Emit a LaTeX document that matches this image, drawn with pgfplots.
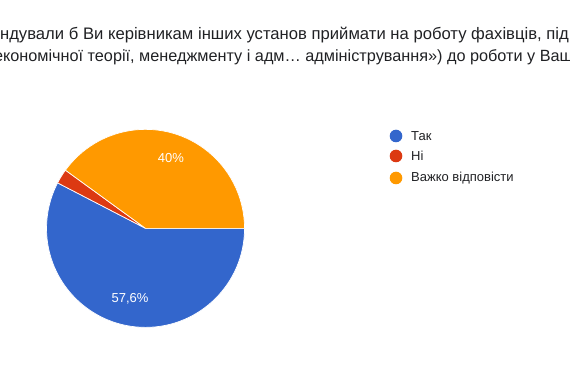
\documentclass[border=0pt]{standalone}
\usepackage{pgfplots}
\usepackage{pgfplotstable}
\pgfplotsset{compat=1.18}
\usepackage{fontspec}
\setmainfont{Liberation Sans}
\definecolor{cTak}{HTML}{3366CC}
\definecolor{cNi}{HTML}{DC3912}
\definecolor{cVazh}{HTML}{FF9900}
\definecolor{titlegray}{HTML}{202124}
\pgfplotstableread{
label value
Tak 57.6
Ni 2.4
Vazhko 40
}\piedata
\pgfplotstablegetelem{0}{value}\of\piedata \let\vA\pgfplotsretval
\pgfplotstablegetelem{1}{value}\of\piedata \let\vB\pgfplotsretval
\pgfplotstablegetelem{2}{value}\of\piedata \let\vC\pgfplotsretval
\pgfmathsetmacro{\aA}{-3.6*\vA}
\pgfmathsetmacro{\aB}{\aA-3.6*\vB}
\pgfmathsetmacro{\aC}{\aB-3.6*\vC}
\begin{document}
\begin{tikzpicture}[x=1pt,y=1pt]
\path[use as bounding box] (0,0) rectangle (570,364);
\begin{scope}
\clip (0,0) rectangle (570,364);
\node[anchor=base east, font=\fontsize{16.65}{19}\selectfont, text=titlegray, inner sep=0] at (569,324.5) {Чи рекомендували б Ви керівникам інших установ приймати на роботу фахівців, під};
\node[anchor=base east, font=\fontsize{16.25}{19}\selectfont, text=titlegray, inner sep=0] at (573,302.5) {«Фінансів, економічної теорії, менеджменту і адм\dots\ адміністрування») до роботи у Ваш};
\end{scope}
\begin{axis}[hide axis, clip=false, scale only axis, width=198pt, height=198pt,
  xmin=-1, xmax=1, ymin=-1, ymax=1, at={(147,137)}, anchor=center]
\fill[cTak, draw=white, line width=0.7pt] (axis cs:0,0) -- (axis cs:1,0) arc[start angle=0, end angle=\aA, radius=99pt] -- cycle;
\fill[cNi, draw=white, line width=0.7pt] (axis cs:0,0) -- (axis cs:{cos(\aA)},{sin(\aA)}) arc[start angle=\aA, end angle=\aB, radius=99pt] -- cycle;
\fill[cVazh, draw=white, line width=0.7pt] (axis cs:0,0) -- (axis cs:{cos(\aB)},{sin(\aB)}) arc[start angle=\aB, end angle=\aC, radius=99pt] -- cycle;
\end{axis}
\node[text=white, font=\fontsize{13}{15}\selectfont] at (171,206) {40\%};
\node[text=white, font=\fontsize{13}{15}\selectfont] at (130,65) {57,6\%};
\foreach \yy/\cc/\lab in {228/cTak/Так, 208/cNi/Ні, 186/cVazh/Важко відповісти}{
  \fill[\cc] (396,\yy) circle (6.3);
  \node[anchor=west, inner sep=0, text=titlegray, font=\fontsize{13}{15}\selectfont] at (411,\yy) {\lab};
}
\end{tikzpicture}
\end{document}
